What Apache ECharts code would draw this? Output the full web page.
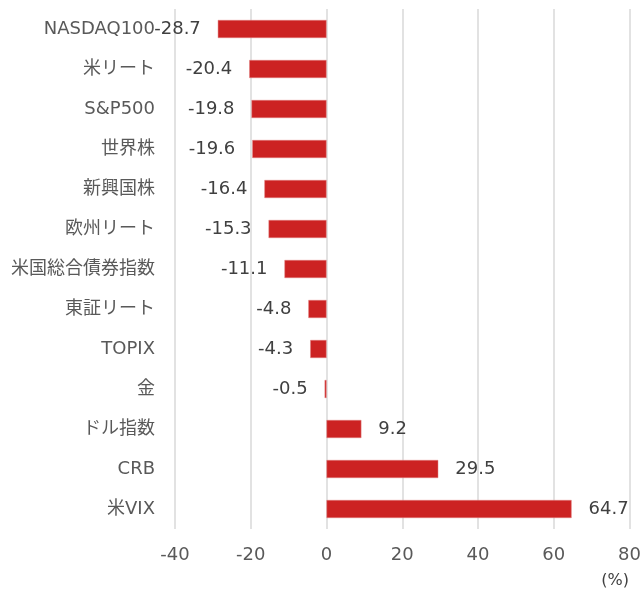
<!DOCTYPE html>
<html><head><meta charset="utf-8">
<script src="https://cdn.jsdelivr.net/npm/echarts@6/dist/echarts.min.js"></script>
<style>html,body{margin:0;padding:0;background:#fff}#c{width:644px;height:591px}</style>
</head><body><div id="c"></div>
<script>
const categories = ['NASDAQ100','米リート','S&P500','世界株','新興国株','欧州リート','米国総合債券指数','東証リート','TOPIX','金','ドル指数','CRB','米VIX'];
const values = [-28.7,-20.4,-19.8,-19.6,-16.4,-15.3,-11.1,-4.8,-4.3,-0.5,9.2,29.5,64.7];
const xTicks = {min:-40,max:80,interval:20};
const unitLabel = '(%)';

const FONT = '"DejaVu Sans","Noto Sans CJK JP",sans-serif';
const chart = echarts.init(document.getElementById('c'));
chart.setOption({
  animation:false,
  grid:{left:175,right:7,top:9,bottom:62,containLabel:false},
  xAxis:{type:'value',min:xTicks.min,max:xTicks.max,interval:xTicks.interval,
    axisLine:{show:false},axisTick:{show:false},
    splitLine:{lineStyle:{color:'#d9d9d9',width:1.5}},
    axisLabel:{color:'#595959',fontSize:18,fontFamily:FONT,margin:17}},
  yAxis:{type:'category',data:categories,inverse:true,
    axisLine:{show:false},axisTick:{show:false},
    axisLabel:{color:'#595959',fontSize:18,fontFamily:FONT,margin:20}},
  graphic:[{type:'text',right:15,bottom:2,style:{text:unitLabel,fill:'#404040',font:'16px '+FONT}}],
  series:[{type:'bar',barWidth:18,
    data:values.map(v=>({value:v,label:{position:v<0?'left':'right'}})),
    itemStyle:{color:'#cc2222',borderColor:'#e08080',borderWidth:0.5},
    label:{show:true,distance:17,color:'#404040',fontSize:18,fontFamily:FONT,formatter:p=>p.value.toFixed(1)}}]
});
</script></body></html>
